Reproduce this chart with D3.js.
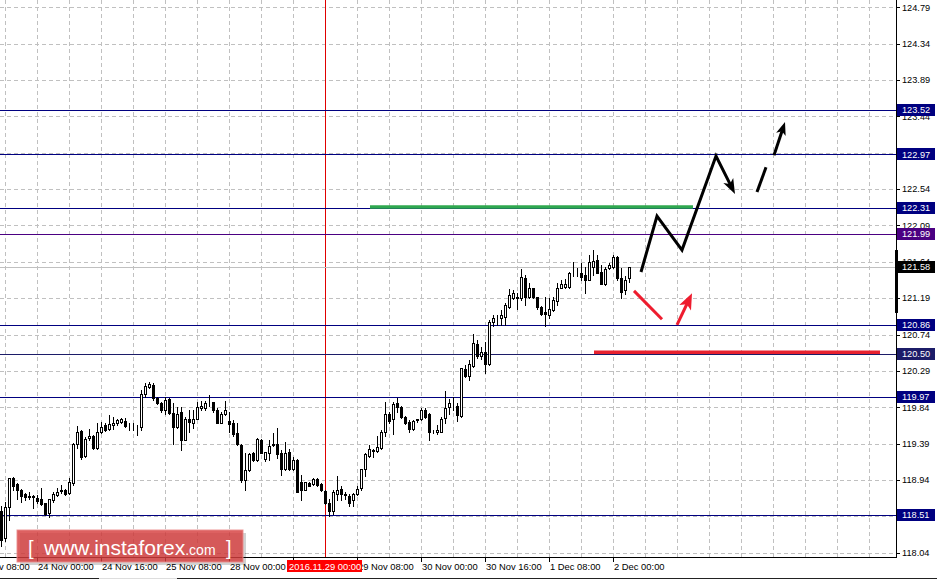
<!DOCTYPE html>
<html><head><meta charset="utf-8">
<script src="https://cdn.jsdelivr.net/npm/d3@7"></script>
<style>
body{margin:0;background:#fff;overflow:hidden;}
svg{display:block;font-family:"Liberation Sans",Arial,sans-serif;}
</style>
</head><body>
<svg id="c" width="937" height="581"></svg>
<script>
// ---------- DATA (USDJPY H1) ----------
const opens=[118.55,118.22,118.60,118.97,118.89,118.81,118.77,118.74,118.73,118.72,118.71,118.65,118.53,118.69,118.75,118.80,118.82,118.78,118.90,119.38,
119.55,119.24,119.46,119.48,119.33,119.54,119.62,119.57,119.62,119.65,119.66,119.67,119.60,119.60,119.59,119.60,120.01,120.09,120.12,119.95,
119.89,119.80,119.94,119.77,119.59,119.78,119.44,119.69,119.65,119.70,119.83,119.83,119.89,119.90,119.80,119.65,119.76,119.67,119.64,119.52,
119.37,118.94,119.06,119.27,119.19,119.44,119.20,119.28,119.37,119.39,119.28,119.07,119.29,119.08,119.19,118.91,118.82,118.90,118.89,118.95,
118.89,118.80,118.66,118.55,118.77,118.83,118.76,118.74,118.69,118.77,118.84,119.08,119.24,119.30,119.30,119.34,119.54,119.76,119.69,119.89,
119.84,119.72,119.66,119.57,119.68,119.69,119.81,119.76,119.54,119.53,119.54,119.71,119.84,119.87,119.86,119.73,120.31,120.23,120.35,120.62,
120.47,120.53,120.38,120.89,120.94,120.95,120.96,121.08,121.19,121.20,121.19,121.44,121.21,121.31,121.20,121.08,121.02,120.98,121.04,121.15,
121.32,121.33,121.33,121.49,121.50,121.50,121.48,121.41,121.57,121.66,121.52,121.37,121.56,121.57,121.70,121.44,121.29,121.44];
const highs=[118.62,118.67,118.97,118.98,118.90,118.83,118.78,118.79,118.75,118.75,118.84,118.66,118.71,118.79,118.84,118.88,118.83,118.96,119.40,119.61,
119.56,119.47,119.57,119.50,119.64,119.66,119.64,119.74,119.72,119.70,119.71,119.71,119.64,119.65,119.62,120.05,120.14,120.15,120.14,119.97,
119.91,119.97,119.95,119.89,119.84,119.84,119.72,119.80,119.80,119.91,119.92,119.92,119.99,119.91,119.83,119.78,119.92,119.78,119.68,119.64,
119.38,119.27,119.27,119.29,119.46,119.45,119.29,119.43,119.52,119.58,119.31,119.41,119.32,119.23,119.20,119.00,118.92,118.91,118.97,118.96,
118.90,118.81,118.70,118.82,118.99,118.86,118.79,118.77,118.78,118.87,119.08,119.28,119.37,119.32,119.48,119.56,119.91,119.78,119.90,119.96,
119.86,119.73,119.68,119.68,119.70,119.83,119.83,119.77,119.56,119.62,119.72,120.04,119.94,119.97,119.89,120.32,120.36,120.43,120.75,120.67,
120.59,120.65,120.92,120.98,120.98,121.04,121.13,121.30,121.29,121.26,121.55,121.48,121.38,121.31,121.21,121.09,121.21,121.19,121.21,121.38,
121.41,121.43,121.52,121.64,121.56,121.63,121.58,121.72,121.79,121.72,121.60,121.58,121.62,121.72,121.71,121.56,121.46,121.58];
const lows=[118.12,118.18,118.44,118.81,118.71,118.67,118.69,118.71,118.59,118.65,118.63,118.51,118.48,118.67,118.74,118.78,118.75,118.77,118.88,119.33,
119.20,119.23,119.44,119.32,119.32,119.52,119.55,119.56,119.57,119.62,119.65,119.59,119.56,119.56,119.50,119.56,119.97,120.08,119.93,119.88,
119.78,119.76,119.76,119.39,119.58,119.31,119.43,119.54,119.58,119.69,119.80,119.80,119.85,119.78,119.64,119.64,119.74,119.54,119.48,119.37,
118.92,118.81,119.05,119.18,119.18,119.27,119.18,119.19,119.36,119.21,119.00,119.06,119.06,119.06,118.79,118.69,118.81,118.86,118.88,118.86,
118.80,118.64,118.50,118.52,118.69,118.69,118.71,118.62,118.62,118.75,118.82,118.99,119.23,119.23,119.29,119.32,119.48,119.65,119.51,119.78,
119.71,119.63,119.54,119.56,119.66,119.68,119.71,119.43,119.52,119.51,119.53,119.64,119.76,119.80,119.67,119.72,120.21,120.18,120.34,120.45,
120.44,120.26,120.36,120.85,120.86,120.86,120.86,121.07,121.18,121.06,121.17,121.11,121.19,121.19,121.06,120.98,120.84,120.94,121.03,121.11,
121.31,121.31,121.32,121.46,121.46,121.41,121.25,121.41,121.48,121.50,121.36,121.35,121.55,121.56,121.41,121.19,121.24,121.39];
const closes=[118.20,118.60,118.97,118.87,118.81,118.74,118.73,118.73,118.74,118.68,118.64,118.52,118.70,118.77,118.79,118.81,118.77,118.91,119.38,119.54,
119.23,119.45,119.49,119.33,119.54,119.60,119.56,119.63,119.64,119.68,119.69,119.61,119.60,119.59,119.60,120.01,120.10,120.13,119.95,119.89,
119.80,119.93,119.77,119.59,119.76,119.44,119.70,119.66,119.70,119.84,119.85,119.89,119.89,119.80,119.65,119.76,119.80,119.63,119.51,119.39,
118.94,119.06,119.26,119.19,119.45,119.28,119.29,119.36,119.39,119.26,119.07,119.27,119.07,119.19,118.79,118.82,118.91,118.87,118.95,118.88,
118.81,118.65,118.55,118.79,118.82,118.77,118.77,118.66,118.77,118.83,119.08,119.26,119.32,119.31,119.35,119.54,119.76,119.67,119.88,119.84,
119.72,119.64,119.57,119.67,119.69,119.80,119.72,119.54,119.54,119.56,119.70,119.83,119.89,119.87,119.74,120.32,120.23,120.37,120.63,120.47,
120.53,120.38,120.89,120.94,120.95,120.98,121.11,121.23,121.25,121.19,121.45,121.21,121.31,121.21,121.08,121.00,120.99,121.05,121.17,121.31,
121.37,121.36,121.50,121.49,121.50,121.45,121.41,121.64,121.65,121.50,121.37,121.55,121.60,121.70,121.44,121.27,121.42,121.58];

const yTicks=[124.79,124.34,123.89,123.44,122.99,122.54,122.09,121.64,121.19,120.74,120.29,119.84,119.39,118.94,118.49,118.04];
const xTickIndex=[-7,9,25,41,57,73,89,105,121,137,153];
const xTickLabels=["23 Nov 08:00","24 Nov 00:00","24 Nov 16:00","25 Nov 08:00","28 Nov 00:00","28 Nov 16:00","29 Nov 08:00","30 Nov 00:00","30 Nov 16:00","1 Dec 08:00","2 Dec 00:00"];
const levels=[123.52,122.97,122.31,121.99,120.86,120.50,119.97,118.51];
const bidPrice=121.58;
const markerIndex=81, markerLabel="2016.11.29 00:00";
// analyst annotations, in [bar index, price]
const greenLevel={from:92.25,to:173,price:122.32};
const redLevel={from:148.25,to:219.75,price:120.52};
const blackPath=[[160,121.514],[164,122.207],[170.25,121.786],[178.75,122.95],[183.5,122.48]];
const blackDash=[[189,122.504],[191.25,122.81]];
const blackArrow2=[[193.25,122.96],[196,123.37]];
const redDown=[[158.25,121.28],[165.25,120.93]];
const redUp=[[169,120.86],[172.75,121.25]];
const rangeBar=[121.786,121.007];

// ---------- STYLE ----------
const levelColor={123.52:"#000080",122.97:"#000080",122.31:"#000080",121.99:"#4b0082",120.86:"#000080",120.50:"#1c1c68",119.97:"#000080",118.51:"#000080"};
const PR=896, PB=557;

const svg=d3.select("#c");
const x=d3.scaleLinear().domain([0,223.75]).range([1,896]);
const y=d3.scaleLinear().domain([118.04,124.79]).range([552.7,7.3]);
const px=v=>Math.round(v)+0.5;

const plot=svg.append("g");
// grid
plot.selectAll(".hg").data(yTicks).enter().append("line")
 .attr("x1",0).attr("x2",PR).attr("y1",d=>px(y(d))).attr("y2",d=>px(y(d)))
 .attr("stroke","#c0c0c0").attr("stroke-dasharray","4,3");
const vgrid=d3.range(1,224,8);
plot.selectAll(".vg").data(vgrid).enter().append("line")
 .attr("y1",0).attr("y2",PB).attr("x1",d=>px(x(d))).attr("x2",d=>px(x(d)))
 .attr("stroke","#c0c0c0").attr("stroke-dasharray","4,3");

// marker vertical line
plot.append("line").attr("x1",px(x(markerIndex))).attr("x2",px(x(markerIndex)))
 .attr("y1",0).attr("y2",PB).attr("stroke","#e00000");
// bid line
plot.append("line").attr("x1",0).attr("x2",PR).attr("y1",px(y(bidPrice))).attr("y2",px(y(bidPrice)))
 .attr("stroke","#c0c0c0");
// level lines
plot.selectAll(".lv").data(levels).enter().append("line")
 .attr("x1",0).attr("x2",PR).attr("y1",d=>px(y(d))).attr("y2",d=>px(y(d)))
 .attr("stroke",d=>levelColor[d]);

// candles
const candles=opens.map((o,i)=>({i,o,h:highs[i],l:lows[i],c:closes[i]}));
const cg=plot.append("g").attr("shape-rendering","crispEdges");
cg.selectAll(".wick").data(candles).enter().append("line")
 .attr("x1",d=>Math.round(x(d.i))+0.5).attr("x2",d=>Math.round(x(d.i))+0.5)
 .attr("y1",d=>Math.round(y(d.h))).attr("y2",d=>Math.round(y(d.l))+1)
 .attr("stroke","#000");
cg.selectAll(".body").data(candles).enter().append("rect")
 .attr("x",d=>Math.round(x(d.i))-0.5).attr("width",2)
 .attr("y",d=>Math.round(y(Math.max(d.o,d.c)))+0.5)
 .attr("height",d=>Math.max(0,Math.round(y(Math.min(d.o,d.c)))-Math.round(y(Math.max(d.o,d.c)))))
 .attr("fill",d=>d.c>=d.o?"#fff":"#000").attr("stroke","#000");

// annotations
function seg(pts,color,w){
  plot.append("path").attr("d",d3.line().x(p=>x(p[0])).y(p=>y(p[1]))(pts))
   .attr("fill","none").attr("stroke",color).attr("stroke-width",w)
   .attr("stroke-linejoin","miter").attr("stroke-linecap","butt");
}
function arrow(pts,color,w,L,hw){
  const P=pts.map(p=>[x(p[0]),y(p[1])]);
  const a=P[P.length-2], b=P[P.length-1];
  const dx=b[0]-a[0], dy=b[1]-a[1], len=Math.hypot(dx,dy), ux=dx/len, uy=dy/len;
  const base=[b[0]-ux*L,b[1]-uy*L];
  const Q=P.slice(0,-1).concat([[b[0]-ux*L*0.6,b[1]-uy*L*0.6]]);
  plot.append("path").attr("d",d3.line()(Q)).attr("fill","none").attr("stroke",color)
   .attr("stroke-width",w).attr("stroke-linejoin","miter");
  const notch=[b[0]-ux*L*0.75,b[1]-uy*L*0.75];
  plot.append("path").attr("d",d3.line()([b,[base[0]-uy*hw,base[1]+ux*hw],notch,[base[0]+uy*hw,base[1]-ux*hw]])+"Z")
   .attr("fill",color);
}
plot.append("line").attr("x1",x(greenLevel.from)).attr("x2",x(greenLevel.to))
 .attr("y1",y(greenLevel.price)).attr("y2",y(greenLevel.price)).attr("stroke","#2fa84f").attr("stroke-width",3.5);
plot.append("line").attr("x1",x(redLevel.from)).attr("x2",x(redLevel.to))
 .attr("y1",y(redLevel.price)).attr("y2",y(redLevel.price)).attr("stroke","#e8222f").attr("stroke-width",3.5);
arrow(blackPath,"#000",3,15,5.5);
seg(blackDash,"#000",3);
arrow(blackArrow2,"#000",3,13,5);
seg(redDown,"#ee1c2e",3);
arrow(redUp,"#ee1c2e",3,16,6.5);

// frame
svg.append("line").attr("x1",PR+0.5).attr("x2",PR+0.5).attr("y1",0).attr("y2",PB+1).attr("stroke","#000");
svg.append("line").attr("x1",0).attr("x2",PR+1).attr("y1",PB+0.5).attr("y2",PB+0.5).attr("stroke","#000");
svg.append("rect").attr("x",PR-1).attr("width",3).attr("y",y(rangeBar[0])).attr("height",y(rangeBar[1])-y(rangeBar[0])).attr("fill","#000");

// right axis ticks & labels
const ax=svg.append("g").attr("font-size","9.2px");
ax.selectAll(".yt").data(yTicks).enter().append("line")
 .attr("x1",PR).attr("x2",PR+4).attr("y1",d=>px(y(d))).attr("y2",d=>px(y(d))).attr("stroke","#000");
ax.selectAll(".yl").data(yTicks).enter().append("text")
 .attr("x",PR+6).attr("y",d=>y(d)+3.3).attr("fill","#000").text(d=>d.toFixed(2));
// level boxes
const boxes=levels.map(v=>({v,col:levelColor[v]})).concat([{v:bidPrice,col:"#000"}]);
const bg=ax.selectAll(".bx").data(boxes).enter().append("g");
bg.append("rect").attr("x",PR+1).attr("width",38).attr("y",d=>Math.round(y(d.v))-6).attr("height",12).attr("fill",d=>d.col);
bg.append("text").attr("x",PR+6).attr("y",d=>y(d.v)+3.3).attr("fill","#fff").text(d=>d.v.toFixed(2));

// bottom axis
const bx=svg.append("g").attr("font-size","9.4px");
bx.selectAll(".xt").data(xTickIndex).enter().append("line")
 .attr("x1",d=>px(x(d))).attr("x2",d=>px(x(d))).attr("y1",PB).attr("y2",PB+5).attr("stroke","#000");
bx.selectAll(".xl").data(xTickIndex).enter().append("text")
 .attr("x",d=>x(d)+1).attr("y",570).attr("fill","#000").text((d,k)=>xTickLabels[k]);
const mx=x(markerIndex);
bx.append("rect").attr("x",mx-38).attr("y",560).attr("width",75).attr("height",12).attr("fill","#ff0000");
bx.append("text").attr("x",mx-36).attr("y",570).attr("fill","#fff").text(markerLabel);

// bottom strip
svg.append("line").attr("x1",0).attr("x2",99).attr("y1",578.5).attr("y2",578.5).attr("stroke","#222");
svg.append("line").attr("x1",177).attr("x2",937).attr("y1",578.5).attr("y2",578.5).attr("stroke","#222");
svg.append("line").attr("x1",99).attr("x2",177).attr("y1",578.5).attr("y2",578.5).attr("stroke","#ddd");

// watermark
const wm=svg.append("g");
wm.append("rect").attr("x",20).attr("y",533).attr("width",226).attr("height",32).attr("fill","rgba(0,0,0,0.18)");
wm.append("rect").attr("x",17).attr("y",530).attr("width",226).attr("height",32).attr("fill","rgba(214,62,62,0.82)")
 .attr("stroke","rgba(235,140,140,0.9)");
const wt=wm.append("g").attr("fill","#fff");
wt.append("text").attr("x",28).attr("y",555).attr("font-size","20px").text("[");
wt.append("text").attr("x",44).attr("y",555).attr("font-size","21px").text("www.instaforex").append("tspan").attr("font-size","14px").text(".com");
wt.append("text").attr("x",226).attr("y",555).attr("font-size","20px").text("]");
</script>
</body></html>
